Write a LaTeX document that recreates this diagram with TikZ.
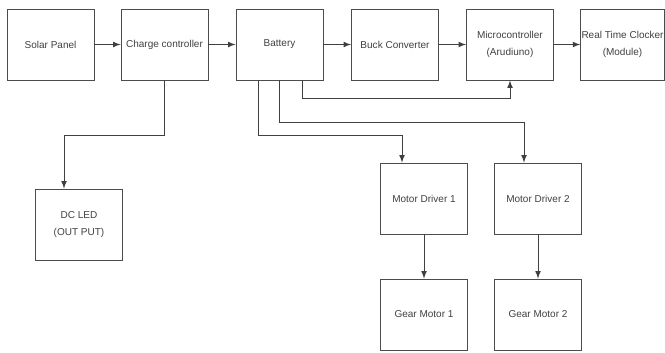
\documentclass[tikz,border=0pt]{standalone}
\usepackage{fontspec}
\setmainfont{Liberation Sans}
\usepgflibrary{arrows}

\begin{document}
\begin{tikzpicture}[x=0.02cm,y=-0.02cm,>=latex,
  blk/.style={draw=black!70,line width=0.5pt,minimum width=1.74cm,minimum height=1.42cm,
    inner sep=0pt,align=center,text=black!75,font=\fontsize{5.7}{9.5}\selectfont},
  wire/.style={->,draw=black!75,line width=0.5pt}]
  \useasboundingbox (0,0) rectangle (665,352);
  \path (50.5,44.5)  node[blk] (sun) {Solar Panel}
        (164.5,44.5) node[blk] (charger) {Charge controller}
        (279.5,44.5) node[blk] (battery) {Battery}
        (395,44.5)   node[blk] (buck) {Buck Converter}
        (510,44.5)   node[blk] (mcu) {Microcontroller\\(Arudiuno)}
        (622.5,44.5) node[blk,minimum width=1.67cm] (rtc) {Real Time Clocker\\(Module)}
        (79,224.5)   node[blk] (led) {DC LED\\(OUT PUT)}
        (424,198.5)  node[blk] (drvA) {Motor Driver 1}
        (538,198.5)  node[blk] (drvB) {Motor Driver 2}
        (424,314.5)  node[blk] (gearA) {Gear Motor 1}
        (538,314.5)  node[blk] (gearB) {Gear Motor 2};
  \draw[wire] (sun) -- (charger);
  \draw[wire] (charger) -- (battery);
  \draw[wire] (battery) -- (buck);
  \draw[wire] (buck) -- (mcu);
  \draw[wire] (mcu) -- (rtc);
  \draw[wire] (charger.south) -- ++(0,55) -| ([xshift=-0.3cm]led.north);
  \draw[wire] ([xshift=0.46cm]battery.south) -- ++(0,18) -| (mcu.south);
  \draw[wire] (battery.south) -- ++(0,42) -| ([xshift=-0.28cm]drvB.north);
  \draw[wire] ([xshift=-0.42cm]battery.south) -- ++(0,55) -| ([xshift=-0.44cm]drvA.north);
  \draw[wire] (drvA) -- (gearA);
  \draw[wire] (drvB) -- (gearB);
\end{tikzpicture}
\end{document}
